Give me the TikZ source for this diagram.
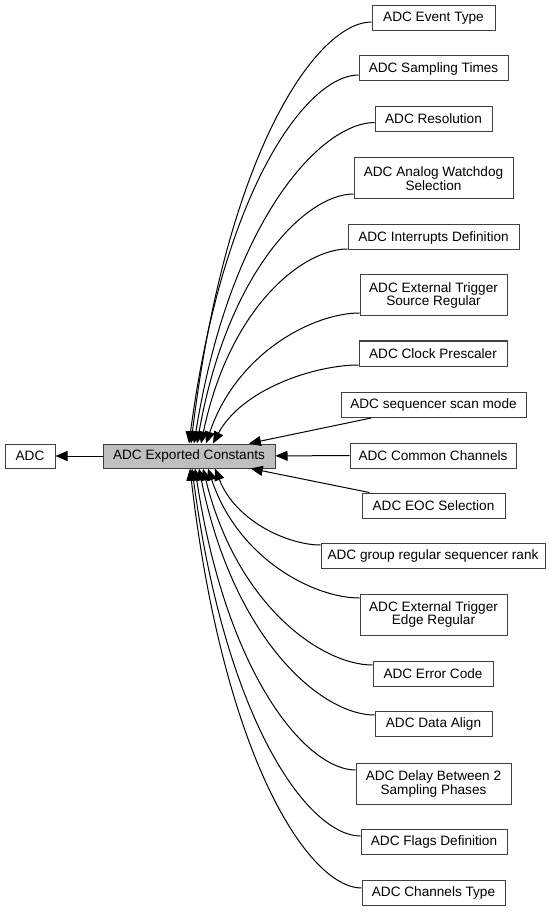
\documentclass[tikz,border=0pt]{standalone}
\usepackage{fontspec}
\setmainfont{Liberation Sans}
\usetikzlibrary{arrows.meta,calc}
\newdimen\px
\px=0.75pt
\definecolor{boxline}{RGB}{64,64,64}
\definecolor{corefill}{RGB}{191,191,191}
\tikzset{
  box/.style={draw=boxline, line width=0.75pt, fill=white, inner sep=0pt,
    minimum height=25\px, align=center, font=\fontsize{10.2pt}{10.4pt}\selectfont},
  tall/.style={minimum height=41\px},
  link/.style={line width=0.75pt, -{Triangle[length=9pt,width=7.5pt]}},
}
\begin{document}
\begin{tikzpicture}[x=0.75pt,y=-0.75pt]
\useasboundingbox (0,0) rectangle (551,912);
% main nodes
\node[box, minimum width=172\px, minimum height=24\px, fill=corefill] (core) at (189,456) {ADC Exported Constants};
\node[box, minimum width=50\px, minimum height=24\px] (adc) at (30,456) {ADC};
% right-hand nodes
\node[box, minimum width=123\px] (ev) at (433.5,18.5) {ADC Event Type};
\node[box, minimum width=149\px] (st) at (433.5,68.5) {ADC Sampling Times};
\node[box, minimum width=117\px] (res) at (433.5,119) {ADC Resolution};
\node[box, tall, minimum width=159\px] (awd) at (433.5,178.5) {ADC Analog Watchdog\\ Selection};
\node[box, minimum width=171\px] (irq) at (433.5,237.5) {ADC Interrupts Definition};
\node[box, tall, minimum width=147\px] (ets) at (433.5,295.5) {ADC External Trigger\\ Source Regular};
\node[box, minimum width=148\px] (clk) at (433,353.5) {ADC Clock Prescaler};
\node[box, minimum width=185\px] (seq) at (433.5,405) {ADC sequencer scan mode};
\node[box, minimum width=166\px] (cc) at (433,455.5) {ADC Common Channels};
\node[box, minimum width=143\px] (eoc) at (433.5,505.5) {ADC EOC Selection};
\node[box, minimum width=224\px] (rank) at (433,556) {ADC group regular sequencer rank};
\node[box, tall, minimum width=147\px] (ete) at (433.5,614.5) {ADC External Trigger\\ Edge Regular};
\node[box, minimum width=120\px] (err) at (433,673.5) {ADC Error Code};
\node[box, minimum width=117\px] (da) at (433.5,724) {ADC Data Align};
\node[box, tall, minimum width=155\px] (dly) at (433.5,784) {ADC Delay Between 2\\ Sampling Phases};
\node[box, minimum width=146\px] (flg) at (434,842) {ADC Flags Definition};
\node[box, minimum width=143\px] (cht) at (433.5,892.5) {ADC Channels Type};
% edges
\draw[link] (core) -- (adc);
\draw[link] (cc) -- (core);
\draw[link] (seq) -- (core);
\draw[link] (eoc) -- (core);
% upper curves
\draw[link] ($(ev.west)+(0,3.5)$) .. controls (318,22) and (227,148) .. ($(core.north)+(2,0)$);
\draw[link] ($(st.west)+(0,6.5)$) .. controls (308,75) and (223,186) .. ($(core.north)+(0,0)$);
\draw[link] ($(res.west)+(0,3.5)$) .. controls (321,123) and (230,219) .. ($(core.north)+(5,0)$);
\draw[link] ($(awd.west)+(0,15.5)$) .. controls (307,194) and (228,269) .. ($(core.north)+(8,0)$);
\draw[link] ($(irq.west)+(0,11.5)$) .. controls (304,249) and (230,305) .. ($(core.north)+(12,0)$);
\draw[link] ($(ets.west)+(0,17.5)$) .. controls (314,313) and (237,352) .. ($(core.north)+(17,0)$);
\draw[link] ($(clk.west)+(0,11.5)$) .. controls (315,365) and (242,389) .. ($(core.north)+(24,0)$);
% lower curves
\draw[link] ($(rank.west)+(0,-11)$) .. controls (289,545) and (236,522) .. ($(core.south)+(26,0)$);
\draw[link] ($(ete.west)+(0,-16.5)$) .. controls (314,598) and (238,559) .. ($(core.south)+(19,0)$);
\draw[link] ($(err.west)+(0,-8.5)$) .. controls (322,665) and (237,606) .. ($(core.south)+(14,0)$);
\draw[link] ($(da.west)+(0,-9)$) .. controls (322,715) and (234,641) .. ($(core.south)+(10,0)$);
\draw[link] ($(dly.west)+(0,-14)$) .. controls (308,770) and (227,679) .. ($(core.south)+(6,0)$);
\draw[link] ($(flg.west)+(0,-6)$) .. controls (310,836) and (226,726) .. ($(core.south)+(3,0)$);
\draw[link] ($(cht.west)+(0,-4.5)$) .. controls (310,888) and (224,762) .. ($(core.south)+(1,0)$);
\end{tikzpicture}
\end{document}
